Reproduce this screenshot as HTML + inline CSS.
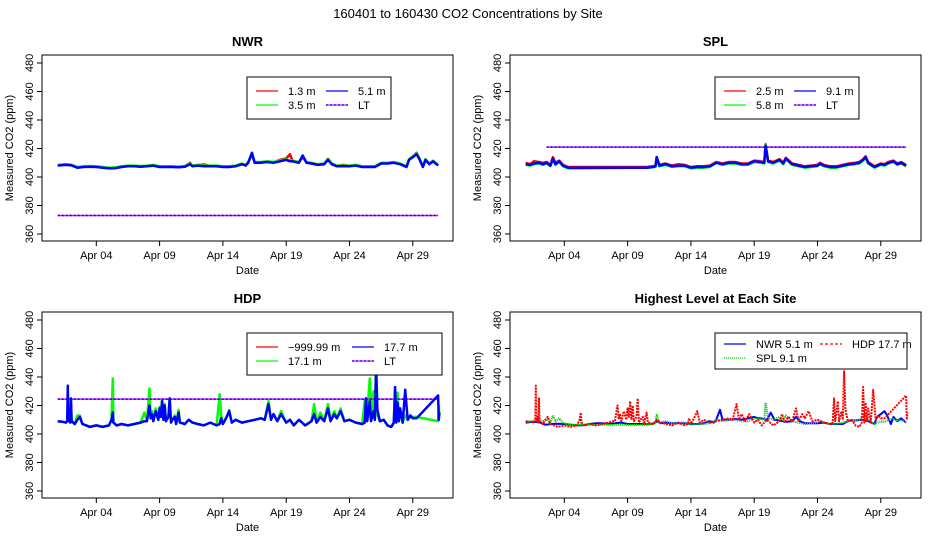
<!DOCTYPE html>
<html><head><meta charset="utf-8"><style>
body{margin:0;background:#fff}
svg{display:block}
text{font-family:"Liberation Sans",Arial,sans-serif;fill:#000}
</style></head><body>
<svg id="c" width="936" height="540" viewBox="0 0 936 540">
<text x="468" y="18" font-size="13" text-anchor="middle">160401  to  160430 CO2 Concentrations by Site</text>
</svg>
<script>
// ---- data (x = day of April, y = ppm) ----
const dayTicks = [4, 9, 14, 19, 24, 29];
const dayTickLabels = ["Apr 04", "Apr 09", "Apr 14", "Apr 19", "Apr 24", "Apr 29"];
const ppmTicks = [360, 380, 400, 420, 440, 460, 480];

const nwrT = [0.95,1.5,2,2.5,3,3.5,4,4.5,5,5.5,6,6.5,7,7.5,8,8.5,9,9.5,10,10.5,11,11.4,11.6,12,12.5,13,13.5,14,14.5,15,15.5,15.8,16,16.3,16.5,17,17.5,18,18.5,19,19.3,19.5,20,20.3,20.6,21,21.5,22,22.3,22.6,23,23.5,24,24.5,25,25.5,26,26.5,27,27.5,28,28.5,28.7,29,29.3,29.5,29.8,30,30.3,30.6,31];
const nwrBlue = [408,408.5,408.3,406.5,407,407.2,407,406.5,406,406.2,407,407.5,407.5,407.2,407.5,408,407,407,407,406.8,407.2,409,407.5,408,407.5,407.5,407.5,407,407,407.5,409,408,410,417,410,410,410.5,410,411,412,411,411,410,415,410,409.5,408.5,409,412,409,407.5,407.5,407.5,408,407,407,407,409.5,409.5,410,409,407,412,414,416,413,407,412,409,411,408];
const nwrGreen = [408.5,409,408.8,407,407.5,407.7,407.5,407,406.5,406.8,407.5,408,408,407.7,408,408.5,407.5,407.5,407.5,407.3,407.7,409.5,408,408.5,408,408,408,407.5,407.5,408,409.5,408.5,410.5,417,410.5,410.5,411,410.5,411.5,412.5,411.5,411.5,410.5,415,410.5,410,409,409.5,412.5,409.5,408,408,408,408.5,407.5,407.5,407.5,410,410,410.5,409.5,407.5,412.5,414.5,416.5,413.5,407.5,412.5,409.5,411.5,408.5];
const nwrRed = [408.2,408.7,408.5,406.8,407.3,407.5,407.3,406.8,406.3,406.5,407.3,407.8,407.8,407.5,407.8,408.3,407.3,407.3,407.3,407,407.5,410,407.8,408.3,408.8,407.8,407.8,407.3,407.3,407.8,409.3,408.3,410.3,416,410.3,410.3,410.8,410.3,412,413,416,411.3,410.3,414,410.3,409.8,408.8,409.3,412.8,409.3,407.8,408.5,407.8,408.3,407.3,407.3,407.3,409.8,409.8,410.3,409.3,407.3,412.3,414.3,417,413.3,407.3,412.3,409.3,411.3,408.3];
const nwrLT = [373, 373];
const nwrLTT = [0.95, 31];

const splT = [0.95,1.3,1.6,2,2.3,2.6,2.9,3.1,3.3,3.6,3.9,4.3,4.6,10.5,11,11.2,11.3,11.5,12,12.5,13,13.5,14,14.5,15,15.5,16,16.5,17,17.5,18,18.5,19,19.5,19.8,19.9,20.1,20.5,21,21.3,21.5,22,22.5,23,23.5,24,24.2,24.5,25,25.5,26,26.5,27,27.3,27.6,27.8,28,28.5,29,29.3,29.6,30,30.3,30.6,31];
const splBlue = [409,408.5,409.5,410,409,410,408,413,409,411,408,406.5,406.5,406.5,407,407.5,414,408,409,407.5,408,408,406.5,407,407,407.5,410,409,410,410,409,409,411,410.5,410,422,411,410,412,409.5,413,409,408,407,407.5,408,409.5,408,407,407,408,409,409.5,410,412,414,410,407,409,408.5,410,411,409,410,408];
const splGreen = [408.5,408,409,409.5,408.5,409.5,407.5,412.5,408.5,410.5,407.5,406,406,406.5,406.8,407.2,414,407.5,408.5,407,407.5,407.5,406,406.5,406.5,407,410,408.5,409.5,409.5,408.5,408.5,410.5,410,409.5,422.5,410.5,409.5,411.5,409,412.5,408.5,407.5,406.5,407,407.5,409,407.5,406.5,406.5,407.5,408.5,409,409.5,411.5,413.5,409.5,406.5,408.5,408,409.5,410.5,408.5,409.5,407.5];
const splRed = [410,409,411,410.5,410,410.5,408.5,414,410,411.5,408.5,407,407,407,407.5,408,414,408.5,409.5,408,409,408.5,407,407.5,407.5,408,410.5,409.5,410.5,410.5,409.5,409.5,411.5,411,410.5,423,411.5,410.5,412.5,410,413.5,409.5,408.5,407.5,408,408.5,410,408.5,407.5,407.5,408.5,409.5,410,410.5,412.5,414.5,410.5,407.5,409.5,409,410.5,411.5,409.5,410.5,408.5];
const splLT = [421, 421];
const splLTT = [2.6, 31];

const hdpT = [0.95,1.4,1.6,1.7,1.75,1.8,1.9,1.95,2.0,2.05,2.3,2.5,2.7,2.9,3.2,3.5,4,4.5,5,5.2,5.3,5.35,5.6,6,6.5,7,7.5,7.8,8,8.2,8.3,8.4,8.5,8.7,8.9,9.0,9.1,9.2,9.3,9.4,9.5,9.7,9.8,9.9,10,10.2,10.3,10.5,10.6,11,11.3,11.6,12,12.5,13,13.5,13.75,13.85,14,14.3,14.5,14.7,15,15.5,16,16.5,17,17.3,17.6,17.8,18,18.3,18.6,19,19.3,19.6,20,20.5,21,21.2,21.4,21.7,22,22.3,22.5,22.8,23,23.3,23.6,24,24.5,25,25.2,25.3,25.4,25.6,25.7,25.9,26.0,26.1,26.2,26.4,26.7,27,27.3,27.5,27.6,27.7,27.8,27.9,28.0,28.2,28.4,28.6,28.8,29,29.3,31,31.05,31.1];
const hdpBlue = [409,408.5,408,409,434,409,412,408,425,409,407,410,412,407,406,405,406,405,406,410,415,408,406,407,406,407,408,409,409,420,411,414,409,416,410,418,412,423,410,420,409,412,425,408,410,412,407,415,408,407,410,408,407,406,408,406,407,411,407,412,416,408,410,408,409,410,411,410,421,410,414,409,414,408,410,406,410,406,409,414,408,412,409,418,409,414,411,416,409,410,408,407,408,425,409,423,409,416,410,444,417,409,410,406,405,408,433,408,422,409,418,408,431,410,413,411,411,427,410,415];
const hdpGreen = [409,408.5,408,409,411,409,418,408,421,409,407,413,413,407,406,405,406,405,406,410,439,408,406,407,406,407,408,415,409,432,411,416,409,418,410,419,412,424,410,421,409,414,425,408,410,413,407,417,408,407,410,408,407,406,408,406,428,414,407,412,417,408,410,408,409,410,411,410,423,410,414,409,416,408,410,406,410,406,409,421,408,415,409,421,410,416,411,418,409,410,408,407,423,425,415,439,411,430,410,459,413,409,410,406,405,408,430,408,429,409,418,408,413,410,412,412,412,409,420,413];
const hdpLT = [424.5, 424.5];
const hdpLTT = [0.95, 31];

// ---- drawing ----
const svg = document.getElementById('c');
const NS = 'http://www.w3.org/2000/svg';
function mk(tag, attrs, parent) {
  const e = document.createElementNS(NS, tag);
  for (const k in attrs) e.setAttribute(k, attrs[k]);
  (parent || svg).appendChild(e);
  return e;
}
function makePanel(px, py, title) {
  const box = {l: px + 42, r: px + 453, t: py + 0, b: py + 186, y480: py + 8, y360: py + 179};
  box.x = d => box.l + 54.3 + (d - 4) * 12.66;
  box.y = v => box.y360 - (v - 360) * (box.y360 - box.y480) / 120;
  const g = mk('g', {});
  
  
  const r = mk('rect', {x: box.l, y: box.t, width: box.r - box.l, height: box.b - box.t, fill: 'none', stroke: '#000'}, g);
  
  
  const tt = mk('text', {x: (box.l + box.r) / 2, y: py - 9, 'font-size': 13, 'font-weight': 'bold', 'text-anchor': 'middle'}, g);
  tt.textContent = title;
  
  
  dayTicks.forEach((d, i) => {
    const x = box.x(d);
    mk('line', {x1: x, x2: x, y1: box.b, y2: box.b + 5, stroke: '#000'}, g);
    const t = mk('text', {x: x, y: box.b + 18, 'font-size': 11, 'text-anchor': 'middle'}, g);
    t.textContent = dayTickLabels[i];
    
    
  });
  ppmTicks.forEach(v => {
    const y = box.y(v);
    mk('line', {x1: box.l - 5, x2: box.l, y1: y, y2: y, stroke: '#000'}, g);
    const t = mk('text', {x: 0, y: 0, 'font-size': 11, 'text-anchor': 'middle', transform: `translate(${box.l - 9},${y}) rotate(-90)`}, g);
    t.textContent = v;
    
    
  });
  const xl = mk('text', {x: (box.l + box.r) / 2, y: box.b + 33, 'font-size': 11, 'text-anchor': 'middle'}, g);
  xl.textContent = 'Date';
  
  
  const yl = mk('text', {x: 0, y: 0, 'font-size': 11, 'text-anchor': 'middle', transform: `translate(${px + 13},${(box.t + box.b) / 2}) rotate(-90)`}, g);
  yl.textContent = 'Measured CO2 (ppm)';
  
  
  box.g = g;
  return box;
}
function series(box, T, V, color, width, dash, name) {
  const pts = T.map((d, i) => box.x(d).toFixed(1) + ',' + box.y(V[i]).toFixed(1)).join(' ');
  const p = mk('polyline', {points: pts, fill: 'none', stroke: color, 'stroke-width': width, 'stroke-linejoin': 'round'}, box.g);
  if (dash) p.setAttribute('stroke-dasharray', dash);
  
  
}
function ltLine(box, T, V) {
  series(box, T, V, '#ff00ff', 1.5, null, 'lt-line-base');
  series(box, T, V, '#0000ff', 1.5, '2,2', 'lt-line');
}
function legend(box, x, y, w, h, items, cols) {
  const g = mk('g', {}, box.g);
  
  
  mk('rect', {x: x, y: y, width: w, height: h, fill: '#fff', stroke: '#000'}, g);
  items.forEach((it, i) => {
    const cx = x + 9 + cols[i % 2];
    const cy = y + (h / 2) - 7 + Math.floor(i / 2) * 14;
    if (it.c2) mk('line', {x1: cx, x2: cx + 22, y1: cy, y2: cy, stroke: it.c2, 'stroke-width': 1.2}, g);
    const ln = mk('line', {x1: cx, x2: cx + 22, y1: cy, y2: cy, stroke: it.c, 'stroke-width': 1.2}, g);
    if (it.d) ln.setAttribute('stroke-dasharray', it.d);
    
    
    const t = mk('text', {x: cx + 32, y: cy + 4, 'font-size': 11}, g);
    t.textContent = it.t;
    
    
  });
}

// NWR
const p1 = makePanel(0, 55, 'NWR');
ltLine(p1, nwrLTT, nwrLT);
series(p1, nwrT, nwrRed, '#ff0000', 2.5, null, 'nwr-1.3m');
series(p1, nwrT, nwrGreen, '#00ff00', 2.5, null, 'nwr-3.5m');
series(p1, nwrT, nwrBlue, '#0000ff', 2.5, null, 'nwr-5.1m');
legend(p1, 247, 77, 144, 42, [{t:'1.3 m', c:'#ff0000'}, {t:'5.1 m', c:'#0000ff'}, {t:'3.5 m', c:'#00ff00'}, {t:'LT', c:'#0000ff', c2:'#ff00ff', d:'2,2'}], [0, 70]);

// SPL
const p2 = makePanel(468, 55, 'SPL');
ltLine(p2, splLTT, splLT);
series(p2, splT, splRed, '#ff0000', 2.5, null, 'spl-2.5m');
series(p2, splT, splGreen, '#00ff00', 2.5, null, 'spl-5.8m');
series(p2, splT, splBlue, '#0000ff', 2.5, null, 'spl-9.1m');
legend(p2, 715, 77, 144, 42, [{t:'2.5 m', c:'#ff0000'}, {t:'9.1 m', c:'#0000ff'}, {t:'5.8 m', c:'#00ff00'}, {t:'LT', c:'#0000ff', c2:'#ff00ff', d:'2,2'}], [0, 70]);

// HDP
const p3 = makePanel(0, 312, 'HDP');
series(p3, hdpT, hdpGreen, '#00ff00', 2.5, null, 'hdp-17.1m');
ltLine(p3, hdpLTT, hdpLT);
series(p3, hdpT, hdpBlue, '#0000ff', 2.5, null, 'hdp-17.7m');
legend(p3, 247, 333, 195, 42, [{t:'\u2212999.99 m', c:'#ff0000'}, {t:'17.7 m', c:'#0000ff'}, {t:'17.1 m', c:'#00ff00'}, {t:'LT', c:'#0000ff', c2:'#ff00ff', d:'2,2'}], [0, 96]);

// Highest level
const p4 = makePanel(468, 312, 'Highest Level at Each Site');
series(p4, nwrT, nwrBlue, '#0000ff', 2, null, 'highest-nwr-5.1m');
series(p4, splT, splBlue, '#007700', 2, '1,1', 'highest-spl-9.1m-base');
series(p4, splT, splBlue, '#00ff00', 1.5, '1,1', 'highest-spl-9.1m');
series(p4, hdpT, hdpBlue, '#ff0000', 2, '2,1', 'highest-hdp-17.7m');
legend(p4, 715, 333, 192, 36, [{t:'NWR   5.1 m', c:'#0000ff'}, {t:'HDP   17.7 m', c:'#ff0000', d:'3,2'}, {t:'SPL   9.1 m', c:'#00cc00', d:'1,1'}], [0, 96]);
</script>
</body></html>
